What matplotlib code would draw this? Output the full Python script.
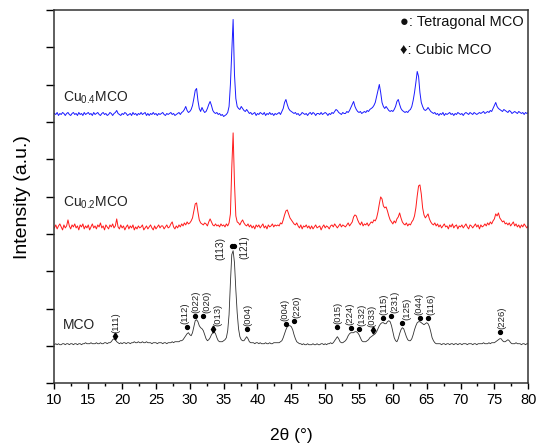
import numpy as np
import matplotlib
matplotlib.use('Agg')
import matplotlib.pyplot as plt
from matplotlib.ticker import MultipleLocator, NullFormatter

plt.rcParams['font.family'] = ['Liberation Sans', 'DejaVu Sans']
plt.rcParams['mathtext.fontset'] = 'custom'
plt.rcParams['mathtext.rm'] = 'Liberation Sans'
plt.rcParams['mathtext.default'] = 'regular'

# 2theta grid, 0.2 deg steps from 10 to 80
two_theta = np.linspace(10, 80, 351)

# intensities (counts above each pattern's own baseline), one row per degree
mco = [
    0, 1, 0, 1, 0,  0, 1, 1, 0, 1,  1, 0, 1, 1, 0,  1, 1, 0, 1, 1,
    0, 1, 1, 2, 1,  1, 1, 2, 1, 1,  1, 2, 1, 1, 2,  1, 1, 2, 2, 1,
    2, 2, 3, 5, 6,  5, 3, 2, 1, 2,  1, 2, 2, 1, 2,  2, 1, 2, 2, 3,
    2, 2, 3, 2, 2,  3, 2, 2, 3, 2,  2, 2, 1, 2, 2,  2, 1, 2, 2, 2,
    1, 2, 2, 1, 2,  2, 2, 3, 2, 3,  3, 3, 3, 4, 4,  5, 7, 9, 11, 12,
    10, 9, 12, 18, 24,  25, 23, 19, 17, 16,  14, 10, 6, 4, 5,  7, 10, 12, 13, 11,
    7, 4, 3, 3, 3,  4, 5, 7, 14, 30,  62, 90, 94, 82, 55,  32, 16, 8, 5, 4,
    4, 6, 8, 6, 3,  2, 2, 2, 1, 2,  2, 1, 2, 1, 1,  1, 2, 1, 1, 2,
    1, 1, 2, 2, 2,  2, 2, 3, 4, 7,  11, 15, 18, 19, 19,  18, 15, 10, 6, 3,
    2, 1, 1, 0, 1,  0, 0, 1, 0, 0,  0, 1, 0, 0, 1,  0, 0, 1, 1, 0,
    1, 0, 1, 1, 2,  1, 2, 4, 6, 8,  6, 3, 2, 2, 3,  4, 6, 9, 11, 12,
    12, 12, 13, 13, 12,  10, 7, 4, 3, 3,  3, 4, 5, 7, 8,  9, 10, 11, 13, 16,
    19, 21, 22, 22, 21,  21, 23, 24, 23, 19,  13, 7, 4, 3, 6,  11, 15, 17, 16, 12,
    8, 5, 4, 4, 6,  10, 15, 19, 22, 23,  23, 22, 21, 20, 21,  22, 21, 18, 13, 7,
    4, 2, 1, 1, 1,  1, 0, 1, 1, 0,  1, 1, 0, 1, 1,  0, 1, 1, 0, 1,
    1, 0, 1, 1, 1,  0, 1, 1, 1, 0,  1, 1, 0, 1, 1,  1, 1, 2, 1, 1,
    1, 2, 1, 2, 2,  2, 3, 4, 5, 6,  6, 4, 3, 3, 4,  5, 4, 2, 1, 1,
    1, 2, 1, 1, 1,  0, 1, 1, 0, 1,  1,
]
cu02 = [
    0, 3, -1, 2, 4,  1, -2, 3, 0, 2,  8, 2, -1, 3, 1,  4, 0, 2, -2, 3,
    1, 4, -1, 2, 0,  3, -2, 1, 4, 0,  2, -1, 3, 1, 5,  0, 2, -2, 3, 1,
    -1, 3, 1, 4, 0,  2, 9, 1, -1, 3,  0, 2, -2, 1, 3,  -1, 2, 0, 3, -2,
    1, -1, 2, 0, 1,  3, -2, 0, 2, -1,  1, 3, 0, -2, 2,  -1, 1, 3, 0, 2,
    2, -1, 1, 3, 0,  1, 4, 6, 1, -1,  2, 0, 3, 1, 4,  2, 5, 3, 6, 4,
    5, 7, 10, 17, 24,  25, 16, 8, 5, 4,  3, 5, 4, 2, 6,  9, 6, 3, 2, 4,
    2, 3, 1, 4, 2,  3, 1, 4, 2, 5,  14, 60, 95, 45, 12,  6, 5, 3, 6, 8,
    5, 3, 2, 4, 1,  3, 0, 2, -1, 3,  1, 3, 0, 2, 4,  0, 2, -1, 3, 1,
    2, 4, 1, 3, 2,  3, 2, 5, 4, 8,  13, 17, 18, 14, 10,  8, 6, 4, 3, 5,
    2, 0, 3, -1, 2,  1, 3, 0, 2, -1,  2, -1, 1, 3, 0,  1, 2, -2, 1, 3,
    0, 2, 1, -1, 2,  3, 1, 4, 2, 0,  2, 4, 1, 3, 2,  1, 3, 5, 2, 4,
    6, 11, 13, 12, 8,  5, 3, 6, 2, 4,  3, 5, 2, 4, 6,  5, 8, 7, 10, 16,
    24, 31, 29, 22, 20,  21, 17, 12, 8, 6,  4, 7, 5, 9, 11,  15, 10, 6, 4, 3,
    5, 2, 4, 3, 6,  8, 12, 20, 32, 42,  43, 34, 20, 13, 10,  12, 14, 9, 6, 4,
    3, 5, 2, 4, 1,  3, 0, 2, 4, 1,  2, -1, 3, 1, 4,  0, 2, 3, -1, 2,
    1, 3, 0, 2, 4,  1, -1, 3, 2, 0,  2, 4, 1, 3, -1,  3, 1, 2, 4, 2,
    5, 3, 6, 4, 7,  9, 14, 12, 15, 10,  8, 6, 7, 4, 5,  3, 5, 2, 4, 6,
    2, 4, 1, 3, 0,  3, 1, 4, 2, 0,  2,
]
cu04 = [
    1, 0, 2, -1, 1,  0, 2, 1, -1, 1,  2, 0, -1, 1, 2,  0, 1, -1, 2, 0,
    1, -1, 2, 0, 1,  2, 0, 1, -1, 2,  0, 1, 2, 0, -1,  1, 2, 0, 1, -1,
    0, 2, 1, -1, 1,  2, 4, 1, 0, -1,  1, 0, 2, 1, -1,  0, 1, -1, 2, 0,
    1, -1, 1, 0, 2,  0, 1, 2, -1, 1,  -1, 1, 0, 2, 0,  1, -1, 1, 0, 1,
    2, 0, -1, 1, 0,  1, 2, 0, 1, -1,  0, 1, 2, 0, 2,  3, 5, 8, 4, 2,
    3, 5, 9, 16, 24,  26, 14, 6, 3, 7,  4, 2, 3, 6, 10,  13, 9, 4, 2, 1,
    2, 0, 1, -1, 0,  -2, -1, 0, 2, 8,  30, 62, 95, 40, 16,  8, 6, 5, 8, 6,
    4, 3, 5, 3, 1,  2, 0, 1, 2, -1,  1, 0, 2, 1, 0,  2, -1, 1, 0, 2,
    0, 1, -1, 1, 0,  1, 2, 0, 3, 6,  12, 15, 10, 6, 4,  3, 2, 1, 2, 0,
    1, -1, 0, 2, 1,  0, 1, -1, 1, 2,  0, 2, 1, -1, 1,  1, 0, 2, 0, 1,
    2, 1, -1, 1, 0,  2, 1, 3, 5, 4,  2, 1, 0, 2, 1,  1, 3, 2, 4, 7,
    10, 13, 8, 5, 3,  2, 3, 1, 2, 3,  2, 4, 3, 5, 6,  7, 9, 12, 18, 24,
    30, 22, 12, 8, 6,  8, 6, 4, 3, 4,  3, 5, 8, 13, 15,  10, 6, 4, 3, 2,
    3, 2, 4, 5, 8,  14, 22, 32, 43, 38,  22, 12, 8, 5, 4,  5, 7, 5, 3, 2,
    1, 2, 0, 1, -1,  1, 0, 2, -1, 1,  0, 1, 2, 0, 1,  -1, 1, 0, 2, 1,
    0, 1, -1, 1, 2,  1, 0, 2, 1, 0,  2, 1, 0, 1, 2,  1, 2, 3, 1, 2,
    3, 2, 4, 3, 6,  9, 12, 8, 6, 5,  4, 3, 5, 4, 3,  2, 4, 3, 1, 2,
    3, 2, 1, 3, 2,  1, 2, 0, 2, 1,  2,
]

counts_per_unit = 37.3
offsets = {'MCO': 1.03, 'Cu02': 4.16, 'Cu04': 7.2}

# reflections marked on the MCO pattern: label, 2theta, marker height, phase
peak_labels = ['(111)', '(112)', '(022)', '(020)', '(013)', '(113)', '(121)',
               '(004)', '(004)', '(220)', '(015)', '(224)', '(132)', '(033)',
               '(115)', '(231)', '(125)', '(044)', '(116)', '(226)']
peak_pos = [18.9, 29.6, 30.8, 32.0, 33.5, 36.2, 36.6, 38.4, 44.2, 45.4,
            51.7, 53.8, 55.0, 57.1, 58.5, 59.7, 61.4, 64.0, 65.2, 75.9]
peak_mark = [9, 18, 29, 29, 16, 99, 99, 16, 21, 24,
             18, 17, 16, 15, 27, 29, 22, 27, 27, 13]
peak_phase = ['c', 't', 't', 't', 'c', 't', 't', 't', 't', 't',
              't', 't', 't', 'c', 't', 't', 't', 't', 't', 't']

# label placement relative to its marker (points); neighbours pushed apart
label_nudge = [(1.2, 2), (-1.5, 2), (0.5, 2), (2.5, 2), (3.5, 2), (-8, -2), (7, -1),
               (1.2, 2), (-1.0, 2), (2.0, 2), (1.2, 2), (-1.0, 2), (2.0, 2), (-0.8, 2),
               (0.6, 2), (3.0, 2), (3.0, 2), (-1.0, 2), (2.0, 2), (1.2, 2)]

fig = plt.figure(figsize=(5.39, 4.45), dpi=100)
ax = fig.add_axes([0.101, 0.139, 0.879, 0.8385])

ax.plot(two_theta, offsets['MCO'] + np.array(mco) / counts_per_unit, color='#303030', lw=0.6)
ax.plot(two_theta, offsets['Cu02'] + np.array(cu02) / counts_per_unit, color='#ff1a1a', lw=0.7)
ax.plot(two_theta, offsets['Cu04'] + np.array(cu04) / counts_per_unit, color='#1a1aff', lw=0.7)

for lab, x, h, ph, nudge in zip(peak_labels, peak_pos, peak_mark, peak_phase, label_nudge):
    y = offsets['MCO'] + h / counts_per_unit
    if ph == 't':
        ax.plot(x, y, 'o', ms=2.8, color='black')
    else:
        ax.plot(x, y, 'd', ms=3.5, color='black')
    beside = lab in ('(113)', '(121)')
    ax.annotate(lab, (x, y), xytext=nudge, textcoords='offset points',
                rotation=90, ha='center', va='center' if beside else 'bottom',
                fontsize=7.3 if beside else 6.8, color='#222222')

ax.text(11.3, 7.64, 'Cu$_{0.4}$MCO', fontsize=10, va='center', color='#222222')
ax.text(11.3, 4.83, 'Cu$_{0.2}$MCO', fontsize=10, va='center', color='#222222')
ax.text(11.3, 1.55, 'MCO', fontsize=10, va='center', color='#222222')

ax.text(61.1, 9.68, '\u25cf: Tetragonal MCO', fontsize=10.5, va='center', color='#111111')
ax.text(61.1, 8.93, '\u2666: Cubic MCO', fontsize=10.5, va='center', color='#111111')

ax.set_xlim(10, 80)
ax.set_ylim(0, 10)
ax.xaxis.set_major_locator(MultipleLocator(5))
ax.xaxis.set_minor_locator(MultipleLocator(2.5))
ax.yaxis.set_major_locator(MultipleLocator(1))
ax.yaxis.set_major_formatter(NullFormatter())
ax.tick_params(axis='x', which='major', direction='out', length=4.3, width=1, labelsize=10.5, pad=3)
ax.tick_params(axis='x', which='minor', direction='out', length=2.5, width=1)
ax.tick_params(axis='y', which='major', direction='out', length=5.5, width=1)
for s in ax.spines.values():
    s.set_linewidth(1.1)
    s.set_color('#333333')

ax.set_xlabel('2\u03b8 (\u00b0)', fontsize=12.5, labelpad=15)
ax.set_ylabel('Intensity (a.u.)', fontsize=14, labelpad=8)

fig.savefig('out.png', dpi=100)
